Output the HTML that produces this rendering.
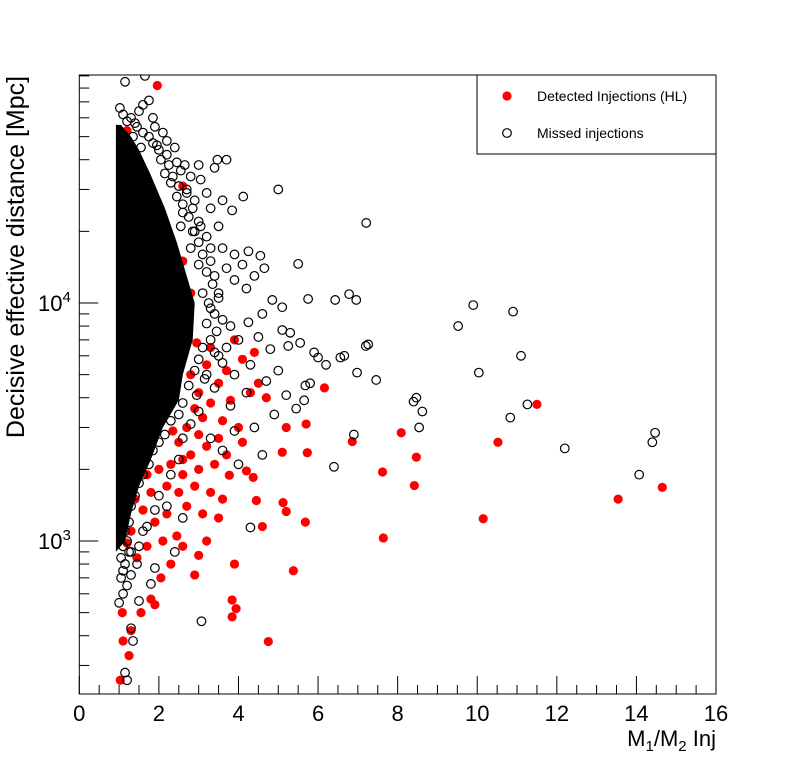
<!DOCTYPE html>
<html><head><meta charset="utf-8"><style>
body{margin:0;background:#fff;}
svg{display:block;font-family:"Liberation Sans","DejaVu Sans",sans-serif;}
</style></head><body>
<svg id="chart" width="796" height="772" viewBox="0 0 796 772">
<g id="marks"></g>
<g id="axes"></g>
</svg>
<script>
// ---- data ----
const xTicks = [0,2,4,6,8,10,12,14,16];
const yMajorTicks = [1000,10000];
const yTickLabels = ["10^3","10^4"];
// core region of densely overlapping missed injections (x, distance)
const coreX = [0.92,0.92,1.05,1.12,1.3,1.5,1.78,2.15,2.45,2.7,2.9,2.85,2.6,2.5,2.1,1.8,1.5,1.3,1.15,0.92];
const coreY = [900,56000,56000,54000,50000,44000,35000,25000,18000,13000,10000,7000,5000,3900,3000,2200,1700,1300,1000,900];
const missedX = [1.15,1.65,1.02,1.5,1.6,1.75,1.85,1.4,2.1,1.35,1.55,1.95,2.4,2.2,2.45,2.65,3.0,3.47,3.7,3.4,2.55,2.8,3.05,2.3,2.7,3.2,5.0,4.12,3.6,2.9,3.3,3.84,7.21,2.6,3.0,3.5,3.2,2.85,4.25,4.55,4.65,3.6,3.9,4.1,3.3,3.7,5.5,4.4,3.9,4.2,4.85,5.75,6.43,6.78,6.96,5.1,4.6,3.5,3.3,4.25,5.1,5.3,5.25,5.55,3.8,4.0,4.5,4.8,6.0,6.56,6.66,7.2,7.26,5.9,6.2,6.98,7.46,5.8,5.68,5.0,4.3,3.9,3.5,3.2,4.7,5.65,5.45,5.2,4.2,3.8,4.9,4.4,3.9,6.9,6.4,4.6,4.0,3.6,3.3,4.3,3.07,2.2,2.6,1.9,1.8,2.4,1.3,1.2,1.15,1.35,1.5,1.1,1.25,1.6,9.9,9.52,10.9,11.1,10.04,11.26,10.83,12.2,14.07,14.4,14.47,8.47,8.4,8.54,8.62,
1.1,1.3,1.2,1.45,1.6,1.75,1.85,2.0,2.05,2.25,2.15,2.35,2.5,2.45,2.6,2.75,2.55,2.9,3.0,2.8,3.1,3.0,3.2,3.35,3.1,3.25,3.4,3.2,3.45,3.3,3.1,3.4,3.0,2.9,3.15,2.75,2.95,2.6,2.5,2.3,2.15,2.0,1.85,1.75,1.6,1.5,1.4,1.3,1.25,1.15,1.2,1.1,1.3,1.05,1.15,1.05,1.2,1.1,1.0,1.3,1.45,1.5,1.7,1.9,2.0,2.3,2.5,2.6,2.8,3.0,3.4,3.6,3.7,3.6,3.5,3.4,3.3,3.05,2.85,2.7,2.2,1.9];
const missedY = [85000,90000,66000,64000,68000,71000,60000,57000,52000,50000,45000,46000,45000,42000,39000,38000,38000,40000,40000,37000,36000,34000,33000,32000,30000,29000,30000,28000,27000,27000,25000,24500,21700,24000,22000,21000,19000,20000,16500,15800,14000,17000,16000,14500,15000,14000,14600,13000,12500,11500,10300,10400,10300,10900,10300,9600,9000,11000,9500,8300,7700,7500,6600,6800,8000,7000,7200,6400,5900,5900,6000,6600,6700,6200,5500,5100,4750,4600,4500,5200,5500,5000,6000,5000,4700,3900,3600,4100,4200,3700,3400,3000,2900,2800,2050,2300,2100,2400,2700,1140,460,1400,1250,770,660,900,430,260,280,380,560,750,900,1100,9800,8000,9200,6000,5100,3750,3300,2450,1900,2600,2850,4000,3850,3000,3500,
62000,60000,58000,55000,52000,50000,47000,44000,40000,38000,35000,34000,31000,28000,26000,23000,21000,20000,18000,17000,16000,14500,13500,12000,11000,10000,9000,8200,7600,7000,6500,6200,5800,5200,4800,4500,4100,3800,3400,3200,2800,2600,2400,2100,1900,1750,1550,1400,1200,1100,1000,950,900,850,800,700,650,600,550,720,800,950,1150,1350,1550,1900,2200,2700,3100,3500,4400,5600,6500,8500,10500,13000,17000,21000,25000,29000,48000,55000];
const detX = [11.5,10.52,10.15,13.54,14.65,8.42,8.47,8.09,7.64,7.62,6.86,6.16,5.7,5.73,5.38,5.68,5.1,4.45,4.75,3.84,3.94,3.84,3.9,4.6,5.12,5.2,3.77,4.2,4.37,1.96,1.03,1.1,1.08,1.3,1.25,1.55,1.9,1.8,2.05,2.3,2.9,3.0,2.6,2.1,1.7,1.45,2.45,3.2,3.5,3.1,2.7,2.2,1.9,1.6,2.5,2.9,3.3,3.6,2.2,1.8,2.6,3.0,3.4,3.7,2.3,2.8,3.2,2.5,3.0,3.5,4.1,2.7,3.1,3.6,4.0,2.9,3.3,3.8,4.3,3.0,3.5,2.8,3.2,4.5,3.7,4.1,3.3,3.9,4.4,2.95,4.7,5.2,2.6,2.0,2.35,1.7,1.4,1.3,1.2,2.8,2.6,1.2,2.6];
const detY = [3750,2600,1240,1500,1680,1710,2250,2850,1030,1950,2620,4400,3100,2350,750,1200,2360,1480,378,565,520,480,800,1150,1450,1330,1890,1970,1850,82000,260,380,500,420,330,500,540,570,700,800,720,870,950,1000,950,850,1050,1000,1250,1300,1400,1300,1200,1350,1600,1700,1600,1500,1700,1600,1900,2000,2100,2300,2100,2300,2500,2600,2800,2700,2600,3000,3300,3200,3000,3600,3800,3900,4200,4200,4600,5000,5500,4600,5200,5800,6500,7000,6200,6800,4000,3000,2200,2000,2900,1900,1500,1100,980,11000,15000,53000,31000];

// ---- axis functions ----
const X0=79.3, X1=716, XMIN=0, XMAX=16;
const Y0=75, Y1=694;
const sx = v => X0 + (v-XMIN)/(XMAX-XMIN)*(X1-X0);
const sy = v => 303 - (Math.log10(v)-4)*238;
const NS="http://www.w3.org/2000/svg";
function mk(tag, attrs, parent){const e=document.createElementNS(NS,tag);for(const k in attrs)e.setAttribute(k,attrs[k]);parent.appendChild(e);return e;}
const marks=document.getElementById('marks');
const axes=document.getElementById('axes');

const defs=mk('defs',{},marks);
const cp=mk('clipPath',{id:'clip'},defs);
mk('rect',{x:X0,y:Y0,width:X1-X0,height:Y1-Y0},cp);
const plot=mk('g',{'clip-path':'url(#clip)'},marks);

for(let i=0;i<detX.length;i++){
  const c=mk('circle',{cx:sx(detX[i]),cy:sy(detY[i]),r:4.6,fill:'#ff0000'},plot);
  
  
}
const pts=coreX.map((x,i)=>sx(x).toFixed(1)+','+sy(coreY[i]).toFixed(1)).join(' ');
const core=mk('polygon',{points:pts,fill:'#000'},plot);


for(let i=0;i<missedX.length;i++){
  const c=mk('circle',{cx:sx(missedX[i]),cy:sy(missedY[i]),r:4.3,fill:'none',stroke:'#000','stroke-width':1.2},plot);
  
  
}

const fr=mk('rect',{x:X0,y:Y0,width:X1-X0,height:Y1-Y0,fill:'none',stroke:'#000','stroke-width':1},axes);



for(let v=0; v<=16.001; v+=0.5){
  const major = Math.abs(v/2-Math.round(v/2))<1e-6;
  mk('line',{x1:sx(v),x2:sx(v),y1:Y1,y2:Y1-(major?18:9),stroke:'#000','stroke-width':1},axes);
}
xTicks.forEach(v=>{
  const t=mk('text',{x:sx(v),y:721,'font-size':22,'text-anchor':'middle',fill:'#000'},axes);
  t.textContent=v;
  
  
});
for(let d=100; d<=100000; d*=10){
  for(let m=1;m<10;m++){
    const v=d*m; const y=sy(v);
    if(y<Y0||y>Y1) continue;
    mk('line',{x1:X0,x2:X0+(m===1?19:10),y1:y,y2:y,stroke:'#000','stroke-width':1},axes);
  }
}
yMajorTicks.forEach((v,i)=>{
  const parts=yTickLabels[i].split('^');
  const t=mk('text',{x:38,y:sy(v)+8,'font-size':22,fill:'#000'},axes);
  t.textContent=parts[0];
  const s=mk('tspan',{dy:-9,'font-size':15},t);
  s.textContent=parts[1];
  
  
});
</script>
<svg style="position:absolute;left:0;top:0" width="796" height="772">
  <text x="24" y="257" font-size="25" text-anchor="middle" transform="rotate(-90 24 257)" font-family="Liberation Sans, sans-serif">Decisive effective distance [Mpc]</text>
  <text x="716" y="746" font-size="22" text-anchor="end" font-family="Liberation Sans, sans-serif">M<tspan dy="5" font-size="15">1</tspan><tspan dy="-5">/M</tspan><tspan dy="5" font-size="15">2</tspan><tspan dy="-5"> Inj</tspan></text>
  <g>
    <rect x="477" y="75" width="239" height="79" fill="#fff" stroke="#000" stroke-width="1"/>
    <circle cx="507" cy="96" r="4.6" fill="#ff0000"/>
    <text x="537" y="101" font-size="14" font-family="Liberation Sans, sans-serif">Detected Injections (HL)</text>
    <circle cx="507" cy="133" r="4.3" fill="none" stroke="#000" stroke-width="1.2"/>
    <text x="537" y="138" font-size="14" font-family="Liberation Sans, sans-serif">Missed injections</text>
  </g>
</svg>
</body></html>
